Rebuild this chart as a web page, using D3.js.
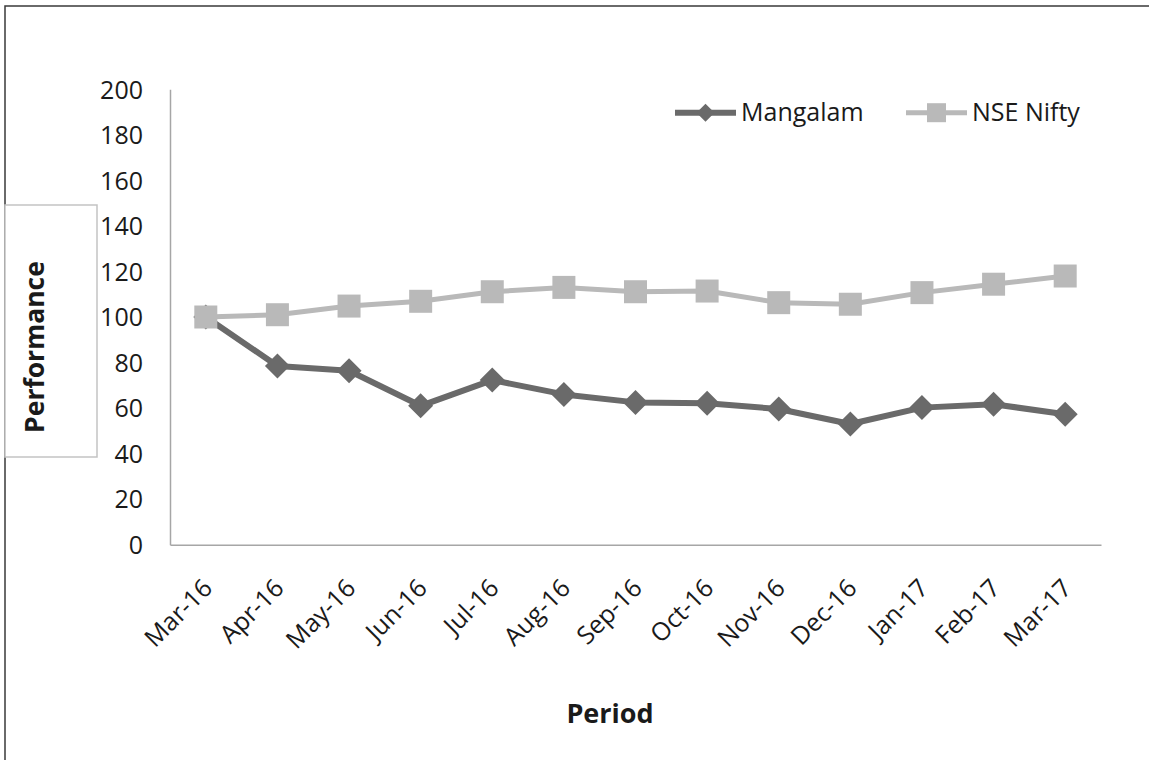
<!DOCTYPE html>
<html>
<head>
<meta charset="utf-8">
<script src="https://cdn.jsdelivr.net/npm/d3@7"></script>
<style>
  body { margin: 0; background: #fff; }
  svg { display: block; font-family: 'Open Sans', sans-serif; }
  .axis .domain { stroke: #a6a6a6; stroke-width: 1.5; }
  .axis text { fill: #1a1a1a; font-size: 25px; font-family: 'Open Sans', sans-serif; }
</style>
</head>
<body>
<script>
const months = ['Mar-16', 'Apr-16', 'May-16', 'Jun-16', 'Jul-16', 'Aug-16', 'Sep-16',
  'Oct-16', 'Nov-16', 'Dec-16', 'Jan-17', 'Feb-17', 'Mar-17'];
const mangalam = [100, 78.5, 76.4, 61.0, 72.3, 66.0, 62.5, 62.1, 59.6, 53.0, 60.2, 61.7, 57.3];
const nifty = [100, 101.0, 104.8, 106.9, 111.1, 113.0, 111.1, 111.4, 106.3, 105.6, 110.7, 114.4, 118.0];
const yTicks = [0, 20, 40, 60, 80, 100, 120, 140, 160, 180, 200];

const width = 1149;
const height = 760;

const svg = d3.select('body')
  .append('svg')
  .attr('width', width)
  .attr('height', height);

// outer frame, runs off the right and bottom edge
svg.append('rect')
  .attr('x', 5).attr('y', 6)
  .attr('width', width + 20).attr('height', height + 20)
  .attr('fill', 'none')
  .attr('stroke', '#3a3a3a')
  .attr('stroke-width', 1.5);

const x = d3.scaleBand()
  .domain(months)
  .range([170, 1101]);

const y = d3.scaleLinear()
  .domain([0, 200])
  .range([544.7, 89.3]);

const cx = d => x(d) + x.bandwidth() / 2;

svg.append('g')
  .attr('class', 'axis')
  .attr('transform', 'translate(170, 0)')
  .call(d3.axisLeft(y).tickValues(yTicks).tickSize(0).tickPadding(27))
  .selectAll('text')
  .attr('dy', '0.35em');

const xAxis = svg.append('g')
  .attr('class', 'axis')
  .attr('transform', 'translate(0, 544.7)')
  .call(d3.axisBottom(x).tickSize(0).tickSizeOuter(0).tickPadding(0));

xAxis.selectAll('text')
  .attr('text-anchor', 'end')
  .attr('dy', 0)
  .attr('transform', 'translate(8, 45) rotate(-45)');

// axis titles
svg.append('rect')
  .attr('x', 5).attr('y', 205)
  .attr('width', 92).attr('height', 252)
  .attr('fill', '#fff')
  .attr('stroke', '#c3c3c3')
  .attr('stroke-width', 1.5);

svg.append('text')
  .attr('transform', 'translate(44, 347) rotate(-90)')
  .attr('text-anchor', 'middle')
  .attr('font-size', 26.5)
  .attr('font-weight', 'bold')
  .attr('fill', '#1a1a1a')
  .text('Performance');

svg.append('text')
  .attr('x', 610).attr('y', 723)
  .attr('text-anchor', 'middle')
  .attr('font-size', 27)
  .attr('font-weight', 'bold')
  .attr('fill', '#1a1a1a')
  .text('Period');

const line = d3.line()
  .x((d, i) => cx(months[i]))
  .y(d => y(d));

const diamond = r => `M0,${-r}L${r},0L0,${r}L${-r},0Z`;

const series = [
  { name: 'Mangalam', values: mangalam, color: '#6a6a6a', lw: 6, marker: 'diamond' },
  { name: 'NSE Nifty', values: nifty, color: '#b9b9b9', lw: 5, marker: 'square' },
];

series.forEach(s => {
  svg.append('path')
    .datum(s.values)
    .attr('d', line)
    .attr('fill', 'none')
    .attr('stroke', s.color)
    .attr('stroke-width', s.lw)
    .attr('stroke-linejoin', 'round');

  svg.selectAll(null)
    .data(s.values)
    .enter()
    .append('path')
    .attr('transform', (d, i) => `translate(${cx(months[i])}, ${y(d)})`)
    .attr('d', s.marker === 'square'
      ? d3.symbol(d3.symbolSquare, 23 * 23)()
      : diamond(12.5))
    .attr('fill', s.color);
});

// legend
const legend = [
  { name: 'Mangalam', color: '#6a6a6a', lw: 6, marker: 'diamond', x0: 675 },
  { name: 'NSE Nifty', color: '#b9b9b9', lw: 5, marker: 'square', x0: 906 },
];
const ly = 112.7;

legend.forEach(l => {
  const g = svg.append('g');
  g.append('line')
    .attr('x1', l.x0).attr('x2', l.x0 + 61)
    .attr('y1', ly).attr('y2', ly)
    .attr('stroke', l.color)
    .attr('stroke-width', l.lw);
  g.append('path')
    .attr('transform', `translate(${l.x0 + 30.5}, ${ly})`)
    .attr('d', l.marker === 'square'
      ? d3.symbol(d3.symbolSquare, 19 * 19)()
      : diamond(9))
    .attr('fill', l.color);
  g.append('text')
    .attr('x', l.x0 + 66).attr('y', ly)
    .attr('dy', '0.35em')
    .attr('font-size', 25)
    .attr('fill', '#1a1a1a')
    .text(l.name);
});
</script>
</body>
</html>
